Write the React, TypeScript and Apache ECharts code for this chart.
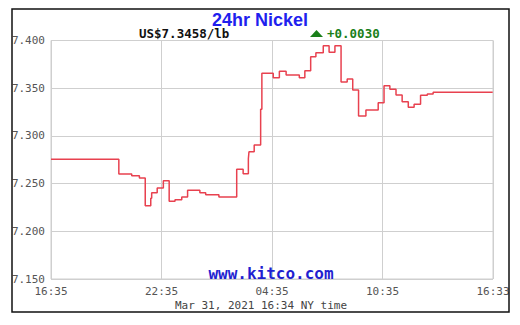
import React, { useEffect, useRef } from "react";
import * as echarts from "echarts";

const startTime = "16:35";
const times = [
  "16:35", "20:16", "20:58", "21:23", "21:42", "22:00", "22:03", "22:21", "22:41", "23:00",
  "23:19", "23:41", "00:00", "00:40", "00:59", "01:42", "02:40", "03:01", "03:18", "03:20",
  "03:37", "03:58", "04:02", "04:39", "04:59", "05:21", "06:04", "06:22", "06:41", "06:58",
  "07:22", "07:41", "08:00", "08:20", "08:40", "08:58", "09:17", "09:41", "10:21", "10:40",
  "10:59", "11:19", "11:39", "11:59", "12:18", "12:39", "13:01", "13:20", "16:34",
];
const prices = [
  7.2755, 7.26, 7.2583, 7.256, 7.2268, 7.2346, 7.2405, 7.2454, 7.253, 7.2315,
  7.2332, 7.236, 7.243, 7.2405, 7.2384, 7.236, 7.265, 7.2604, 7.276, 7.2834,
  7.2905, 7.328, 7.3656, 7.361, 7.3677, 7.3638, 7.361, 7.3684, 7.383, 7.3872,
  7.3946, 7.3876, 7.3946, 7.3565, 7.3596, 7.3481, 7.3209, 7.3271, 7.3348, 7.3526,
  7.3488, 7.3429, 7.3358, 7.33, 7.3331, 7.3426, 7.344, 7.3458, 7.3458,
];
const xTickLabels = ["16:35", "22:35", "04:35", "10:35", "16:33"];
const yTicks = [7.15, 7.2, 7.25, 7.3, 7.35, 7.4];

const titleText = "24hr Nickel";
const priceText = "US$7.3458/lb";
const changeText = "+0.0030";
const footerText = "Mar 31, 2021 16:34 NY time";
const watermark = "www.kitco.com";

function toMinutes(t: string): number {
  const [h, m] = t.split(":").map(Number);
  const [sh, sm] = startTime.split(":").map(Number);
  let d = h * 60 + m - (sh * 60 + sm);
  if (d < 0) d += 1440;
  return d;
}

export default function App() {
  const ref = useRef<HTMLDivElement>(null);
  useEffect(() => {
    if (!ref.current) return;
    const chart = echarts.init(ref.current, null, { renderer: "svg" });
    const data = times.map((t, i) => {
      let m = toMinutes(t);
      if (i === times.length - 1 && m === 0) m = 1440;
      return [m, prices[i]];
    });
    const mono = "'DejaVu Sans Mono', 'Liberation Mono', monospace";
    chart.setOption({
      animation: false,
      backgroundColor: "#ffffff",
      grid: { left: 51, right: 27, top: 40.5, bottom: 46, show: true, borderColor: "#cfcfcf", borderWidth: 1 },
      xAxis: {
        type: "value",
        min: 0,
        max: 1440,
        interval: 360,
        axisLine: { show: false },
        axisTick: { show: false },
        splitLine: { show: true, lineStyle: { color: "#cfcfcf", width: 1 } },
        axisLabel: {
          color: "#555",
          fontFamily: mono,
          fontSize: 11,
          margin: 7,
          showMaxLabel: true,
          formatter: (v: number) => xTickLabels[Math.round(v / 360)] ?? "",
        },
      },
      yAxis: {
        type: "value",
        min: yTicks[0],
        max: yTicks[yTicks.length - 1],
        interval: 0.05,
        axisLine: { show: false },
        axisTick: { show: false },
        splitLine: { show: true, lineStyle: { color: "#cfcfcf", width: 1 } },
        axisLabel: {
          color: "#555",
          fontFamily: mono,
          fontSize: 11,
          margin: 6,
          formatter: (v: number) => v.toFixed(3),
        },
      },
      series: [
        {
          type: "line",
          step: "end",
          data,
          symbol: "none",
          lineStyle: { color: "#e8414f", width: 1.5 },
          z: 3,
        },
      ],
      graphic: [
        {
          type: "rect",
          shape: { x: 12, y: 9, width: 497, height: 303 },
          style: { fill: "none", stroke: "#111", lineWidth: 1.5 },
          z: 100,
        },
        {
          type: "text",
          x: 260,
          y: 20,
          style: {
            text: titleText,
            fill: "#1f1fee",
            font: "bold 18px 'Liberation Sans', Arial, sans-serif",
            align: "center",
            verticalAlign: "middle",
          },
        },
        {
          type: "text",
          x: 139,
          y: 33.5,
          style: {
            text: priceText,
            fill: "#111",
            font: `bold 12.5px ${mono}`,
            align: "left",
            verticalAlign: "middle",
          },
        },
        {
          type: "polygon",
          shape: { points: [[310, 37], [323, 37], [316.5, 30]] },
          style: { fill: "#1a7f1a" },
        },
        {
          type: "text",
          x: 327,
          y: 33.5,
          style: {
            text: changeText,
            fill: "#1a7f1a",
            font: `bold 12.5px ${mono}`,
            align: "left",
            verticalAlign: "middle",
          },
        },
        {
          type: "text",
          x: 271,
          y: 273,
          style: {
            text: watermark,
            fill: "#1f1fd0",
            font: `bold 16px ${mono}`,
            align: "center",
            verticalAlign: "middle",
          },
          z: 50,
        },
        {
          type: "text",
          x: 261,
          y: 305,
          style: {
            text: footerText,
            fill: "#444",
            font: `11px ${mono}`,
            align: "center",
            verticalAlign: "middle",
          },
        },
      ],
    });
    return () => chart.dispose();
  }, []);
  return (
    <div
      ref={ref}
      style={{ position: "fixed", left: 0, top: 0, width: 520, height: 325 }}
    />
  );
}
